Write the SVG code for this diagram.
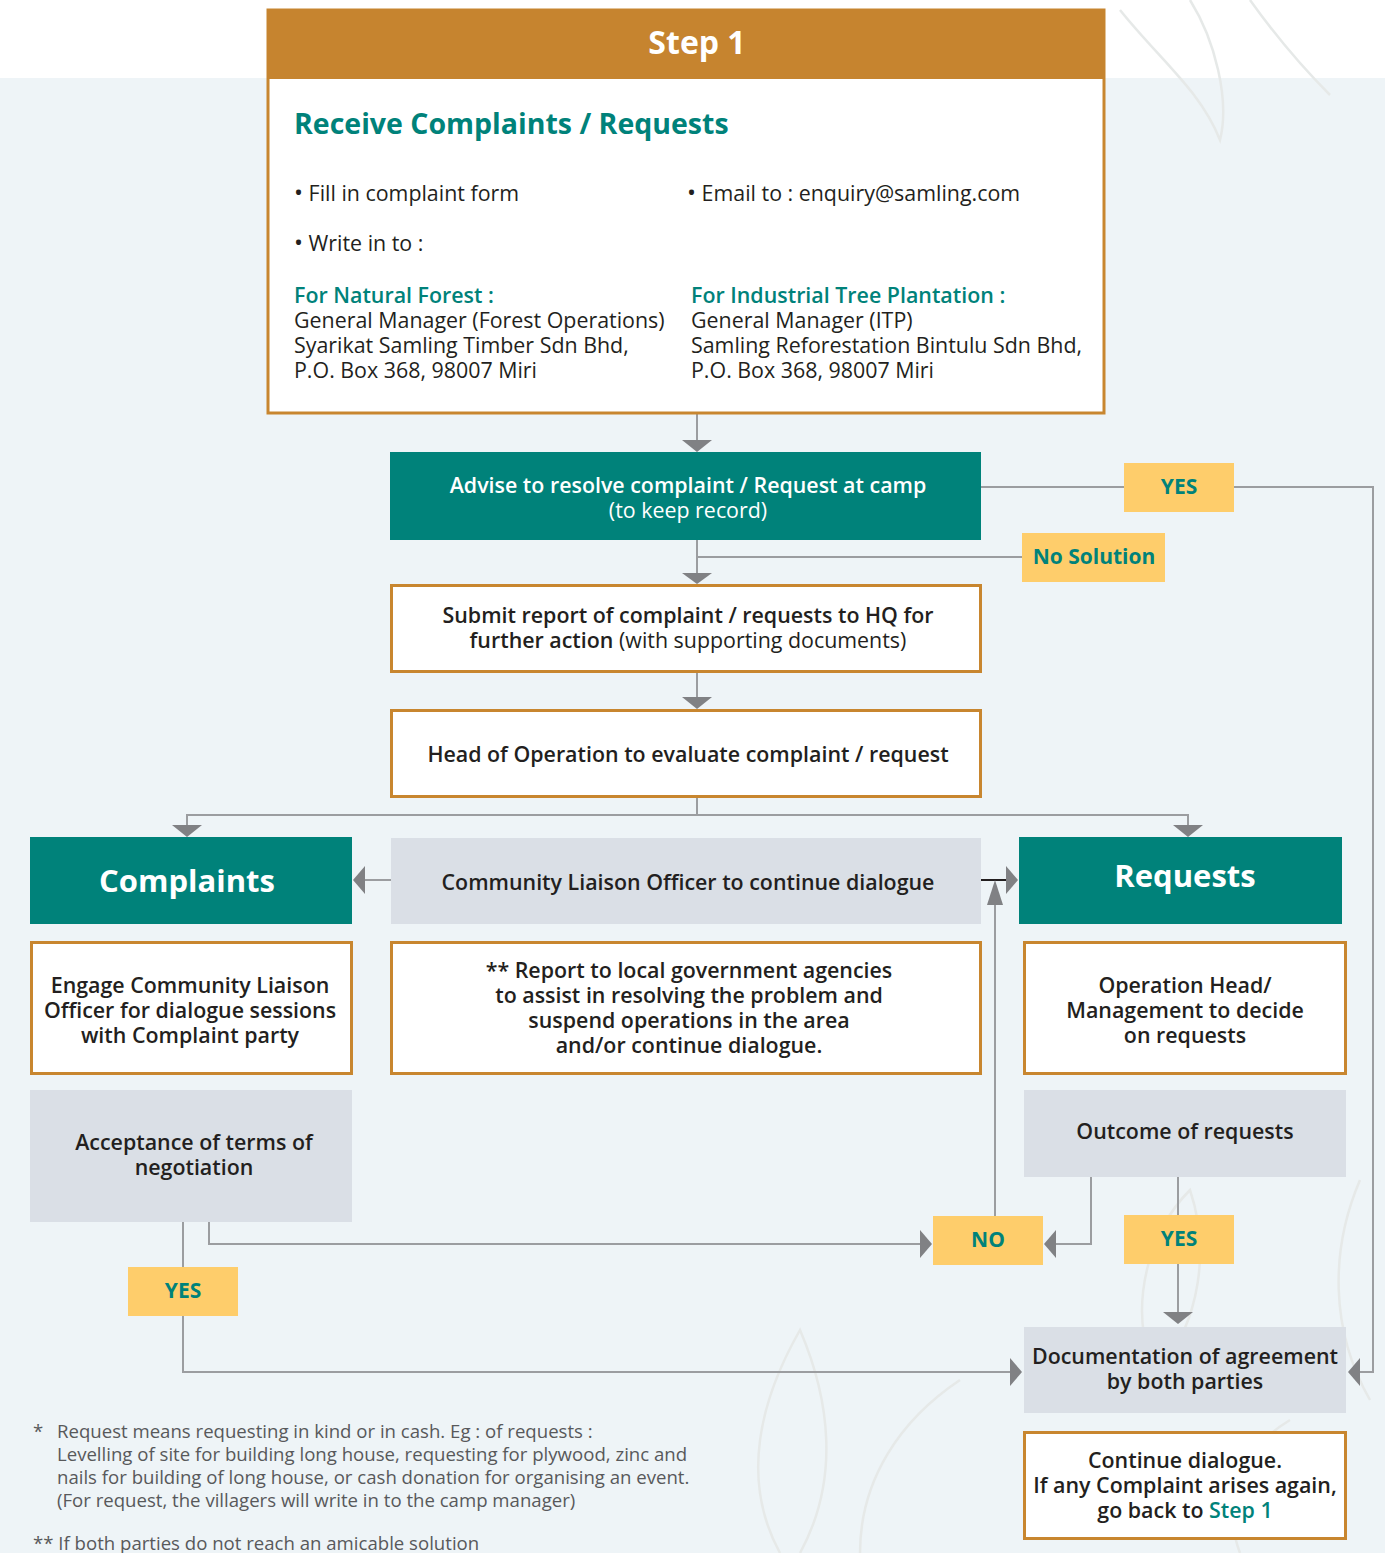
<svg xmlns="http://www.w3.org/2000/svg" width="1385" height="1553" viewBox="0 0 1385 1553">
<defs>
<style>
text{font-family:"Open Sans","Noto Sans","Liberation Sans",sans-serif;}
.t{font-size:21.4px;font-weight:600;fill:#231f20;text-anchor:middle;}
.tr{font-size:21.4px;font-weight:400;fill:#231f20;}
.w{fill:#ffffff;text-anchor:middle;}
.teal{fill:#00827a;}
.lbl{font-size:21px;font-weight:700;fill:#00827a;text-anchor:middle;}
.orange{fill:#ffffff;stroke:#c8862f;stroke-width:3;}
.tealbox{fill:#00827a;}
.grey{fill:#dadfe6;}
.yel{fill:#fecd6b;}
.ln{fill:none;stroke:#9b9da0;stroke-width:2;}
.ah{fill:#808184;}
.note{font-size:18.6px;font-weight:400;fill:#58595b;}
.leaf{fill:none;stroke:#e6e9e8;stroke-width:2.5;}
</style>
</defs>
<rect x="0" y="0" width="1385" height="1553" fill="#eef4f7"/>
<rect x="0" y="0" width="1385" height="78" fill="#ffffff"/>
<g id="decor">
<path class="leaf" d="M1120 10 C1160 60 1200 90 1220 140 C1230 100 1215 40 1190 0"/>
<path class="leaf" d="M1250 0 C1275 35 1300 65 1330 95"/>
<path class="leaf" d="M780 1553 C740 1480 760 1400 800 1330 C830 1400 840 1480 800 1553"/>
<path class="leaf" d="M860 1553 C860 1480 900 1420 960 1380"/>
<path class="leaf" d="M1150 1360 C1130 1300 1150 1230 1190 1190 C1210 1250 1200 1320 1160 1370"/>
<path class="leaf" d="M1360 1180 C1330 1250 1330 1330 1370 1400"/>
<path class="leaf" d="M1240 1553 C1220 1500 1240 1450 1290 1420"/>
</g>
<g id="connectors">
<line class="ln" x1="697" y1="414" x2="697" y2="442"/>
<polygon class="ah" points="682,440 712,440 697,452"/>
<polyline class="ln" points="981,487 1124,487"/>
<polyline class="ln" points="1234,487 1373,487 1373,1372 1360,1372"/>
<polygon class="ah" points="1360,1358 1360,1386 1348,1372"/>
<line class="ln" x1="697" y1="540" x2="697" y2="574"/>
<line class="ln" x1="697" y1="557" x2="1022" y2="557"/>
<polygon class="ah" points="682,573 712,573 697,584"/>
<line class="ln" x1="697" y1="672" x2="697" y2="698"/>
<polygon class="ah" points="682,697 712,697 697,709"/>
<polyline class="ln" points="697,797 697,815"/>
<polyline class="ln" points="187,826 187,815 1188,815 1188,826"/>
<polygon class="ah" points="172,825 202,825 187,837"/>
<polygon class="ah" points="1173,825 1203,825 1188,837"/>
<line class="ln" x1="391" y1="880" x2="363" y2="880"/>
<polygon class="ah" points="365,866 365,894 353,880"/>
<line x1="981" y1="880" x2="1007" y2="880" stroke="#231f20" stroke-width="2"/>
<polygon class="ah" points="1006,866 1006,894 1018,880"/>
<line class="ln" x1="995" y1="1216" x2="995" y2="900"/>
<polygon class="ah" points="987,905 1003,905 995,880"/>
<polyline class="ln" points="209,1222 209,1244 922,1244"/>
<polygon class="ah" points="920,1230 920,1258 932,1244"/>
<polyline class="ln" points="1091,1177 1091,1244 1055,1244"/>
<polygon class="ah" points="1056,1230 1056,1258 1044,1244"/>
<line class="ln" x1="1178" y1="1177" x2="1178" y2="1215"/>
<line class="ln" x1="1178" y1="1264" x2="1178" y2="1313"/>
<polygon class="ah" points="1163,1312 1193,1312 1178,1324"/>
<line class="ln" x1="183" y1="1222" x2="183" y2="1267"/>
<polyline class="ln" points="183,1316 183,1372 1011,1372"/>
<polygon class="ah" points="1010,1358 1010,1386 1022,1372"/>
</g>
<g id="step1">
<rect class="orange" x="268" y="10" width="836" height="403"/>
<rect x="267" y="9" width="838" height="70" fill="#c6842f"/>
<text x="697" y="54" class="w" font-size="32" font-weight="700">Step 1</text>
<text x="294" y="134" class="teal" font-size="28.5" font-weight="700">Receive Complaints / Requests</text>
<text x="294" y="201" class="tr"><tspan font-size="24">•</tspan> Fill in complaint form</text>
<text x="687" y="201" class="tr"><tspan font-size="24">•</tspan> Email to : enquiry@samling.com</text>
<text x="294" y="251" class="tr"><tspan font-size="24">•</tspan> Write in to :</text>
<text x="294" y="303" class="teal" font-size="21.4" font-weight="600">For Natural Forest :</text>
<text x="294" y="328" class="tr">General Manager (Forest Operations)</text>
<text x="294" y="353" class="tr">Syarikat Samling Timber Sdn Bhd,</text>
<text x="294" y="378" class="tr">P.O. Box 368, 98007 Miri</text>
<text x="691" y="303" class="teal" font-size="21.4" font-weight="600">For Industrial Tree Plantation :</text>
<text x="691" y="328" class="tr">General Manager (ITP)</text>
<text x="691" y="353" class="tr">Samling Reforestation Bintulu Sdn Bhd,</text>
<text x="691" y="378" class="tr">P.O. Box 368, 98007 Miri</text>
</g>
<g id="advise">
<rect class="tealbox" x="390" y="452" width="591" height="88"/>
<text x="688" y="493" class="t w">Advise to resolve complaint  / Request at camp</text>
<text x="688" y="518" class="w" font-size="21.4" font-weight="400">(to keep record)</text>
</g>
<g id="yes-top">
<rect class="yel" x="1124" y="463" width="110" height="49"/>
<text x="1179" y="494" class="lbl">YES</text>
</g>
<g id="no-solution">
<rect class="yel" x="1022" y="533" width="143" height="49"/>
<text x="1094" y="564" class="lbl">No Solution</text>
</g>
<g id="submit">
<rect class="orange" x="391.5" y="585.5" width="589" height="86"/>
<text x="688" y="623" class="t">Submit report of complaint / requests to HQ for</text>
<text x="688" y="648" class="t">further action<tspan font-weight="400"> (with supporting documents)</tspan></text>
</g>
<g id="head">
<rect class="orange" x="391.5" y="710.5" width="589" height="86"/>
<text x="688" y="762" class="t">Head of Operation to evaluate complaint / request</text>
</g>
<g id="complaints">
<rect class="tealbox" x="30" y="837" width="322" height="87"/>
<text x="187" y="892" class="w" font-size="31" font-weight="700">Complaints</text>
</g>
<g id="liaison">
<rect class="grey" x="391" y="838" width="590" height="86"/>
<text x="688" y="890" class="t">Community Liaison Officer to continue dialogue</text>
</g>
<g id="requests">
<rect class="tealbox" x="1019" y="837" width="323" height="87"/>
<text x="1185" y="887" class="w" font-size="31" font-weight="700">Requests</text>
</g>
<g id="engage">
<rect class="orange" x="31.5" y="942.5" width="320" height="131"/>
<text x="190" y="993" class="t">Engage Community Liaison</text>
<text x="190" y="1018" class="t">Officer for dialogue sessions</text>
<text x="190" y="1043" class="t">with Complaint party</text>
</g>
<g id="report">
<rect class="orange" x="391.5" y="942.5" width="589" height="131"/>
<text x="689" y="978" class="t">** Report to local government agencies</text>
<text x="689" y="1003" class="t">to assist in resolving the problem and</text>
<text x="689" y="1028" class="t">suspend operations in the area</text>
<text x="689" y="1053" class="t">and/or continue dialogue.</text>
</g>
<g id="operation-head">
<rect class="orange" x="1024.5" y="942.5" width="321" height="131"/>
<text x="1185" y="993" class="t">Operation Head/</text>
<text x="1185" y="1018" class="t">Management to decide</text>
<text x="1185" y="1043" class="t">on requests</text>
</g>
<g id="acceptance">
<rect class="grey" x="30" y="1090" width="322" height="132"/>
<text x="194" y="1150" class="t">Acceptance of terms of</text>
<text x="194" y="1175" class="t">negotiation</text>
</g>
<g id="outcome">
<rect class="grey" x="1024" y="1090" width="322" height="87"/>
<text x="1185" y="1139" class="t">Outcome of requests</text>
</g>
<g id="no">
<rect class="yel" x="933" y="1216" width="110" height="49"/>
<text x="988" y="1247" class="lbl">NO</text>
</g>
<g id="yes-right">
<rect class="yel" x="1124" y="1215" width="110" height="49"/>
<text x="1179" y="1246" class="lbl">YES</text>
</g>
<g id="yes-left">
<rect class="yel" x="128" y="1267" width="110" height="49"/>
<text x="183" y="1298" class="lbl">YES</text>
</g>
<g id="documentation">
<rect class="grey" x="1024" y="1327" width="322" height="86"/>
<text x="1185" y="1364" class="t">Documentation of agreement</text>
<text x="1185" y="1389" class="t">by both parties</text>
</g>
<g id="continue">
<rect class="orange" x="1024.5" y="1432.5" width="321" height="106"/>
<text x="1185" y="1468" class="t">Continue dialogue.</text>
<text x="1185" y="1493" class="t">If any Complaint arises again,</text>
<text x="1185" y="1518" class="t">go back to <tspan class="teal">Step 1</tspan></text>
</g>
<g id="notes">
<text x="33" y="1438" class="note">*</text>
<text x="57" y="1438" class="note">Request means requesting in kind or in cash. Eg : of requests :</text>
<text x="57" y="1461" class="note">Levelling of site for building long house, requesting for plywood, zinc and</text>
<text x="57" y="1484" class="note">nails for building of long house, or cash donation for organising an event.</text>
<text x="57" y="1507" class="note">(For request, the villagers will write in to the camp manager)</text>
<text x="33" y="1550" class="note">** If both parties do not reach an amicable solution</text>
</g>
</svg>
